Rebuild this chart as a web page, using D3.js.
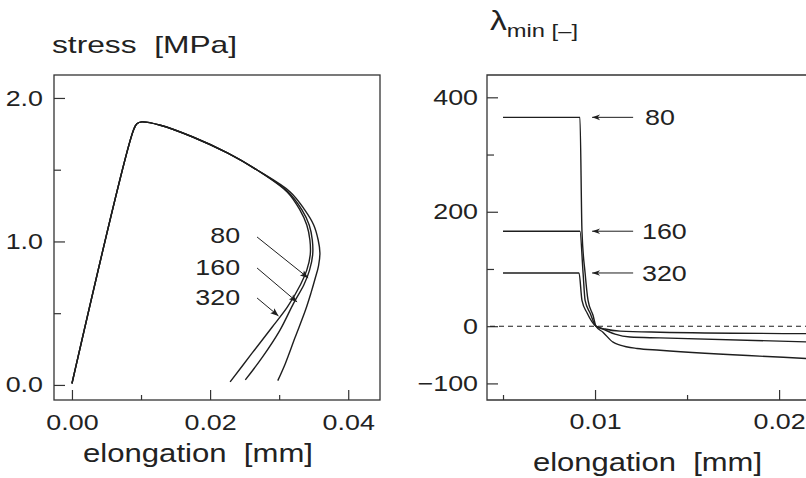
<!DOCTYPE html>
<html><head><meta charset="utf-8">
<script src="https://cdn.jsdelivr.net/npm/d3@7/dist/d3.min.js"></script>
<style>
body{margin:0;background:#fff;}
text{font-family:"Liberation Sans",Arial,Helvetica,sans-serif;fill:#222;}
</style>
</head><body>
<svg id="c" width="806" height="478"></svg>
<script>
// ---------- data ----------
// left panel: stress [MPa] vs elongation [mm]
const stressShared = [[0,0.01],[0.0089,1.775],[0.0094,1.82],[0.0101,1.833],[0.0128,1.81],[0.0175,1.728],[0.0225,1.617],[0.0268,1.498]];
const stressTail80  = [[0.0316,1.345],[0.0337,1.22],[0.0350,1.115],[0.03565,1.01],[0.0359,0.92],[0.0357,0.83],[0.0352,0.74],[0.0346,0.64],[0.0338,0.52],[0.0323,0.33],[0.0309,0.15],[0.0298,0.03]];
const stressTail160 = [[0.0313,1.345],[0.0333,1.22],[0.03435,1.115],[0.0348,1.01],[0.03485,0.906],[0.0344,0.80],[0.0336,0.70],[0.0321,0.57],[0.0301,0.38],[0.0276,0.195],[0.0251,0.035]];
const stressTail320 = [[0.03116,1.345],[0.0330,1.22],[0.0340,1.115],[0.03445,1.01],[0.0345,0.906],[0.0340,0.80],[0.0331,0.70],[0.0312,0.544],[0.0290,0.404],[0.0261,0.223],[0.0229,0.021]];
const leftXMajor = [0, 0.02, 0.04];
const leftXMinor = [0.01, 0.03];
const leftYMajor = [0, 1, 2];
const leftYMinor = [0.5, 1.5];
const meshLabels = ["80", "160", "320"];
// annotation arrows of left panel: [label x, label y, arrow start x, y, arrow tip x, y] (data units)
const leftNotes = [[0.02435,1.045,0.0268,1.031,0.0342,0.746],[0.02435,0.822,0.0268,0.815,0.0326,0.578],[0.02435,0.613,0.0268,0.606,0.0299,0.481]];

// right panel: lambda_min [-] vs elongation [mm]
const lam80  = [[0.005,365],[0.00918,365],[0.00929,166],[0.00946,93],[0.00962,45],[0.00989,19],[0.01005,0],[0.01043,-10.5],[0.01098,-28],[0.01136,-33],[0.01228,-39],[0.01353,-42],[0.0216,-56.8]];
const lam160 = [[0.005,166],[0.00918,166],[0.00935,93],[0.00946,45],[0.00973,23],[0.01005,0],[0.01043,-5],[0.01109,-14],[0.0119,-19],[0.01353,-20.5],[0.0216,-27.5]];
const lam320 = [[0.005,93],[0.00913,93],[0.00929,45],[0.00957,23],[0.01005,0],[0.01054,-5],[0.01136,-8.7],[0.01353,-10.5],[0.0216,-13]];
const rightXMajor = [0.01, 0.02];
const rightXMinor = [0.005, 0.015];
const rightYMajor = [-100, 0, 200, 400];
const rightYMinor = [100, 300];
// annotation arrows of right panel: [arrow tip x, line end x, label x, value] (data units)
const rightNotes = [[0.00984,0.01207,0.01272,365],[0.00984,0.01207,0.01255,166],[0.00984,0.01207,0.01255,93]];

// ---------- drawing ----------
const svg = d3.select("#c");
const INK = "#1e1e1e";
const STRETCH = 1.22;
function stretch(sel, f){
  sel.each(function(){
    const w = this.getComputedTextLength();
    d3.select(this).attr("textLength", w*f).attr("lengthAdjust","spacingAndGlyphs");
  });
}

const defs = svg.append("defs");
defs.append("marker").attr("id","tri").attr("viewBox","0 -5 10 10")
  .attr("refX",10).attr("refY",0).attr("markerWidth",11).attr("markerHeight",8)
  .attr("markerUnits","userSpaceOnUse").attr("orient","auto")
  .append("path").attr("d","M0,-4L10,0L0,4L2,0Z").attr("fill",INK);
defs.append("marker").attr("id","barb").attr("viewBox","0 -5 10 10")
  .attr("refX",10).attr("refY",0).attr("markerWidth",11).attr("markerHeight",8)
  .attr("markerUnits","userSpaceOnUse").attr("orient","auto")
  .append("path").attr("d","M0,-3.5L10,0L0,3.5L3,0Z").attr("fill",INK);

function drawAxis(g, axisFn, values, size, labels, pad, fmt){
  const ax = axisFn.tickValues(values).tickSizeInner(-size).tickSizeOuter(0).tickPadding(pad);
  if (labels) ax.tickFormat(fmt); else ax.tickFormat("");
  g.call(ax);
  g.select(".domain").remove();
  g.selectAll(".tick line").attr("stroke","#333").attr("stroke-width",1.2);
  g.selectAll(".tick text").attr("font-size",22).attr("fill","#222")
   .style("font-family",'"Liberation Sans",Arial,sans-serif');
  if (labels) stretch(g.selectAll(".tick text"), STRETCH);
}

// ----- left panel -----
const xL = d3.scaleLinear().domain([-0.0026,0.0446]).range([54,380]);
const yL = d3.scaleLinear().domain([-0.105,2.16]).range([400,75]);
const L = svg.append("g");
drawAxis(L.append("g").attr("transform","translate(0,400)"), d3.axisBottom(xL), leftXMajor, 10, true, 14, d3.format(".2f"));
drawAxis(L.append("g").attr("transform","translate(0,400)"), d3.axisBottom(xL), leftXMinor, 5, false, 14);
drawAxis(L.append("g").attr("transform","translate(54,0)"), d3.axisLeft(yL), leftYMajor, 11, true, 11, d3.format(".1f"));
drawAxis(L.append("g").attr("transform","translate(54,0)"), d3.axisLeft(yL), leftYMinor, 7, false, 11);
L.append("rect").attr("x",xL.range()[0]).attr("y",yL.range()[1])
  .attr("width",xL.range()[1]-xL.range()[0]).attr("height",yL.range()[0]-yL.range()[1])
  .attr("fill","none").attr("stroke","#333").attr("stroke-width",1.3);

const lineL = d3.line().x(d=>xL(d[0])).y(d=>yL(d[1])).curve(d3.curveCatmullRom.alpha(0.5));
[stressTail80, stressTail160, stressTail320].forEach(t=>{
  L.append("path").attr("d", lineL(stressShared.concat(t)))
   .attr("fill","none").attr("stroke",INK).attr("stroke-width",1.4);
});
leftNotes.forEach((n,i)=>{
  const t = L.append("text").attr("x",xL(n[0])).attr("y",yL(n[1])+8)
    .attr("text-anchor","end").attr("font-size",22).text(meshLabels[i]);
  stretch(t, STRETCH);
  L.append("line").attr("x1",xL(n[2])).attr("y1",yL(n[3])).attr("x2",xL(n[4])).attr("y2",yL(n[5]))
   .attr("stroke",INK).attr("stroke-width",1).attr("marker-end","url(#tri)");
});
L.append("text").attr("x",52).attr("y",53).attr("font-size",24)
  .attr("textLength",185).attr("lengthAdjust","spacingAndGlyphs").text("stress\u00a0\u00a0[MPa]");
L.append("text").attr("x",83).attr("y",462).attr("font-size",26)
  .attr("textLength",230).attr("lengthAdjust","spacingAndGlyphs").text("elongation\u00a0\u00a0[mm]");

// ----- right panel -----
const xR = d3.scaleLinear().domain([0.00413,0.0257]).range([487,884]);
const yR = d3.scaleLinear().domain([-129,439]).range([400,75]);
const R = svg.append("g");
drawAxis(R.append("g").attr("transform","translate(0,400)"), d3.axisBottom(xR), rightXMajor, 10, true, 13, d3.format(".2f"));
drawAxis(R.append("g").attr("transform","translate(0,400)"), d3.axisBottom(xR), rightXMinor, 5, false, 13);
drawAxis(R.append("g").attr("transform","translate(487,0)"), d3.axisLeft(yR), rightYMajor, 11, true, 9, d3.format("d"));
drawAxis(R.append("g").attr("transform","translate(487,0)"), d3.axisLeft(yR), rightYMinor, 7, false, 9);
R.append("path")
  .attr("d",`M${xR.range()[1]},${yR.range()[1]}H${xR.range()[0]}V${yR.range()[0]}H${xR.range()[1]}`)
  .attr("fill","none").attr("stroke","#333").attr("stroke-width",1.3);
R.append("line").attr("x1",xR.range()[0]+3).attr("x2",xR.range()[1]).attr("y1",yR(0)).attr("y2",yR(0))
  .attr("stroke",INK).attr("stroke-width",1.1).attr("stroke-dasharray","5,4");

const lineR = d3.line().x(d=>xR(d[0])).y(d=>yR(d[1])).curve(d3.curveMonotoneX);
[lam80, lam160, lam320].forEach(s=>{
  R.append("path").attr("d", lineR(s)).attr("fill","none").attr("stroke",INK).attr("stroke-width",1.4);
});
rightNotes.forEach((n,i)=>{
  R.append("line").attr("x1",xR(n[1])).attr("y1",yR(n[3])).attr("x2",xR(n[0])).attr("y2",yR(n[3]))
   .attr("stroke",INK).attr("stroke-width",1).attr("marker-end","url(#barb)");
  const t = R.append("text").attr("x",xR(n[2])).attr("y",yR(n[3])+8)
    .attr("font-size",22).text(meshLabels[i]);
  stretch(t, STRETCH);
});
const lam = R.append("text").attr("x",490).attr("y",30).attr("textLength",88).attr("lengthAdjust","spacingAndGlyphs");
lam.append("tspan").attr("font-size",27).text("\u03bb");
lam.append("tspan").attr("font-size",19).attr("dy",7).text("min [\u2013]");
R.append("text").attr("x",533).attr("y",471).attr("font-size",26)
  .attr("textLength",229).attr("lengthAdjust","spacingAndGlyphs").text("elongation\u00a0\u00a0[mm]");
</script>
</body></html>
